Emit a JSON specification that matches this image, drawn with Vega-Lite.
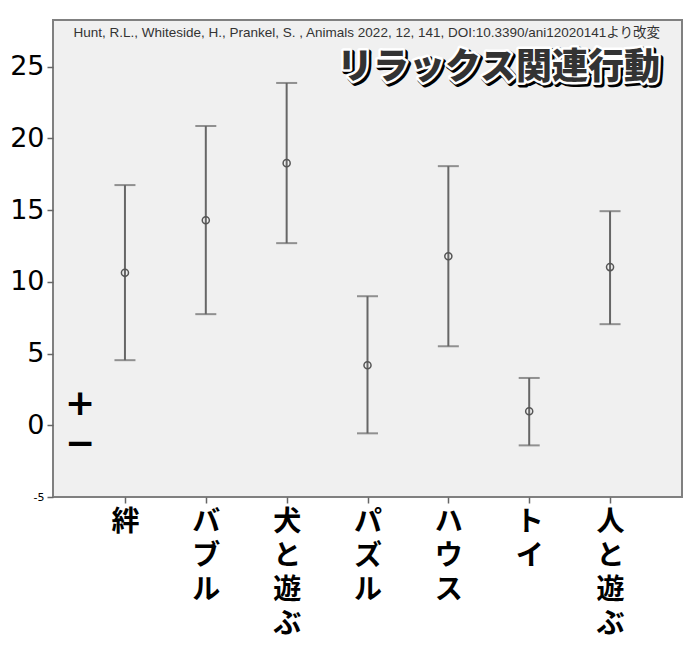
{
  "$schema": "https://vega.github.io/schema/vega-lite/v6.json",
  "autosize": "none",
  "width": 629,
  "height": 477,
  "padding": {"left": 53, "top": 20, "right": 18, "bottom": 159},
  "background": "white",
  "config": {"view": {"fill": "#f0f0f0", "stroke": "#808080", "strokeWidth": 2}},
  "data": {
    "values": [
      {"cat": "絆", "mean": 10.63, "lo": 4.54, "hi": 16.75},
      {"cat": "バブル", "mean": 14.3, "lo": 7.75, "hi": 20.87},
      {"cat": "犬と遊ぶ", "mean": 18.28, "lo": 12.7, "hi": 23.87},
      {"cat": "パズル", "mean": 4.19, "lo": -0.56, "hi": 9.0},
      {"cat": "ハウス", "mean": 11.79, "lo": 5.51, "hi": 18.07},
      {"cat": "トイ", "mean": 0.98, "lo": -1.4, "hi": 3.3},
      {"cat": "人と遊ぶ", "mean": 11.03, "lo": 7.05, "hi": 14.93}
    ]
  },
  "encoding": {
    "x": {
      "field": "cat", "type": "nominal", "sort": null,
      "scale": {"type": "point", "padding": 0.89},
      "axis": {
        "title": null, "domain": false, "grid": false,
        "ticks": true, "tickSize": 6, "tickColor": "#666", "tickWidth": 1.5,
        "labelAngle": 0, "labelBaseline": "top", "labelPadding": 5,
        "labelFont": "Noto Sans CJK JP", "labelFontWeight": "bold",
        "labelFontSize": 28, "labelLineHeight": 34, "labelColor": "#000",
        "labelExpr": "split(datum.label, '')"
      }
    }
  },
  "layer": [
    {
      "mark": {"type": "rule", "stroke": "#666", "strokeWidth": 1, "strokeDash": [3, 3]},
      "encoding": {"y": {"datum": 0, "type": "quantitative"}}
    },
    {
      "mark": {"type": "rule", "stroke": "#666", "strokeWidth": 2},
      "encoding": {
        "y": {
          "field": "lo", "type": "quantitative",
          "scale": {"domain": [-5, 28.26], "nice": false, "zero": false},
          "axis": {
            "title": null, "values": [-5, 0, 5, 10, 15, 20, 25],
            "grid": false, "domain": false,
            "tickSize": 6, "tickColor": "#666", "tickWidth": 1.5,
            "labelFont": "DejaVu Sans", "labelColor": "#000",
            "labelExpr": "datum.value == -5 ? '-5' : datum.label",
            "labelFontSize": {"condition": {"test": "datum.value == -5", "value": 11}, "value": 27},
            "labelPadding": 3
          }
        },
        "y2": {"field": "hi"}
      }
    },
    {
      "mark": {"type": "tick", "color": "#666", "size": 21, "thickness": 2},
      "encoding": {"y": {"field": "lo", "type": "quantitative"}}
    },
    {
      "mark": {"type": "tick", "color": "#666", "size": 21, "thickness": 2},
      "encoding": {"y": {"field": "hi", "type": "quantitative"}}
    },
    {
      "mark": {"type": "point", "shape": "circle", "filled": false, "size": 50, "stroke": "#555", "strokeWidth": 1.5, "opacity": 1},
      "encoding": {"y": {"field": "mean", "type": "quantitative"}}
    },
    {
      "data": {"values": [{"sign": "+", "v": 1.5}, {"sign": "−", "v": -1.3}]},
      "mark": {"type": "text", "font": "DejaVu Sans", "fontWeight": "bold", "fontSize": 36, "dx": -45, "baseline": "middle", "align": "center", "color": "#000"},
      "encoding": {
        "x": {"datum": "絆"},
        "y": {"field": "v", "type": "quantitative"},
        "text": {"field": "sign"}
      }
    },
    {
      "data": {"values": [{"t": "Hunt, R.L., Whiteside, H., Prankel, S. , Animals 2022, 12, 141, DOI:10.3390/ani12020141より改変"}]},
      "mark": {"type": "text", "font": "Liberation Sans, Noto Sans CJK JP", "fontSize": 13.5, "dx": 50, "align": "right", "baseline": "middle", "color": "#333"},
      "encoding": {
        "x": {"datum": "人と遊ぶ"},
        "y": {"datum": 27.35, "type": "quantitative"},
        "text": {"field": "t"}
      }
    },
    {
      "data": {"values": [{"t": "リラックス関連行動"}]},
      "mark": {"type": "text", "font": "Noto Sans CJK JP", "fontWeight": 900, "fontSize": 36, "dx": 52, "dy": 2, "align": "right", "baseline": "middle", "fill": "#000", "stroke": "#000", "strokeWidth": 6, "strokeJoin": "round"},
      "encoding": {
        "x": {"datum": "人と遊ぶ"},
        "y": {"datum": 24.9, "type": "quantitative"},
        "text": {"field": "t"}
      }
    },
    {
      "data": {"values": [{"t": "リラックス関連行動"}]},
      "mark": {"type": "text", "font": "Noto Sans CJK JP", "fontWeight": 900, "fontSize": 36, "dx": 50, "align": "right", "baseline": "middle", "fill": "#fff", "stroke": "#fff", "strokeWidth": 5, "strokeJoin": "round"},
      "encoding": {
        "x": {"datum": "人と遊ぶ"},
        "y": {"datum": 24.9, "type": "quantitative"},
        "text": {"field": "t"}
      }
    },
    {
      "data": {"values": [{"t": "リラックス関連行動"}]},
      "mark": {"type": "text", "font": "Noto Sans CJK JP", "fontWeight": 900, "fontSize": 36, "dx": 50, "align": "right", "baseline": "middle", "fill": "#333"},
      "encoding": {
        "x": {"datum": "人と遊ぶ"},
        "y": {"datum": 24.9, "type": "quantitative"},
        "text": {"field": "t"}
      }
    }
  ]
}
